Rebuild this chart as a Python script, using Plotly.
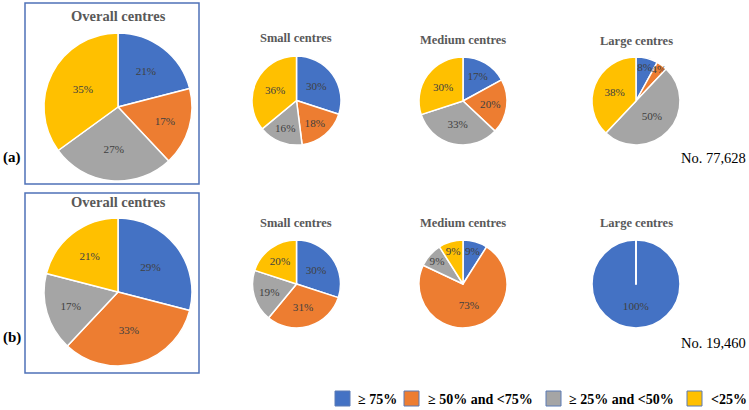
import plotly.graph_objects as go

W, H = 749, 410

categories = ["≥ 75%", "≥ 50% and <75%", "≥ 25% and <50%", "<25%"]
colors = ["#4472C4", "#ED7D31", "#A5A5A5", "#FFC000"]

# Row (a) No. 77,628
a_overall = [21, 17, 27, 35]
a_small = [30, 18, 16, 36]
a_medium = [17, 20, 33, 30]
a_large = [8, 4, 50, 38]

# Row (b) No. 19,460
b_overall = [29, 33, 17, 21]
b_small = [30, 31, 19, 20]
b_medium = [9, 73, 9, 9]
b_large = [100, 0, 0, 0]

titles = ["Overall centres", "Small centres", "Medium centres", "Large centres"]
row_labels = ["(a)", "(b)"]
totals = ["No. 77,628", "No. 19,460"]


def px_x(p):
    return p / W


def px_y(p):
    return 1 - p / H


def slice_text(v, total):
    if v <= 0:
        return ""
    if v == total:
        # full circle: push the label below the centre, as in the original
        return "\u00a0<br>\u00a0<br>\u00a0<br>" + f"{v}%"
    return f"{v}%"


# pie boxes in pixels: (x0, x1, y0, y1)
pies = [
    (a_overall, (44, 192, 33, 181)),
    (a_small, (252, 341, 56, 145)),
    (a_medium, (419, 507, 57, 145)),
    (a_large, (592, 680, 57, 145)),
    (b_overall, (44, 192, 218, 366)),
    (b_small, (252, 341, 240, 328)),
    (b_medium, (419, 507, 240, 328)),
    (b_large, (592, 680, 240, 328)),
]

fig = go.Figure()
for i, (vals, (x0, x1, y0, y1)) in enumerate(pies):
    tot = sum(vals)
    fig.add_trace(go.Pie(
        labels=categories,
        values=vals,
        text=[slice_text(v, tot) for v in vals],
        textinfo="text",
        textposition="inside",
        insidetextorientation="horizontal",
        textfont=dict(family="Liberation Serif", size=11.5, color="#404040"),
        marker=dict(colors=colors, line=dict(color="white", width=1.5)),
        sort=False,
        direction="clockwise",
        rotation=0,
        domain=dict(x=[px_x(x0), px_x(x1)], y=[px_y(y1), px_y(y0)]),
        showlegend=False,
        hoverinfo="label+percent",
    ))

annotations = []
shapes = []
title_pos = [
    [(118, 16, 14.5), (296, 38, 12.5), (463, 40, 12.5), (636, 41, 12.5)],
    [(118, 202, 14.5), (296, 223, 12.5), (463, 223, 12.5), (636, 223, 12.5)],
]
for r in range(2):
    for c in range(4):
        x, y, s = title_pos[r][c]
        annotations.append(dict(
            text=f"<b>{titles[c]}</b>", x=px_x(x), y=px_y(y), xref="paper", yref="paper",
            showarrow=False, xanchor="center", yanchor="middle",
            font=dict(family="Liberation Serif", size=s, color="#595959"),
        ))
for r, y in enumerate([157, 337]):
    annotations.append(dict(
        text=f"<b>{row_labels[r]}</b>", x=px_x(1), y=px_y(y), xref="paper", yref="paper",
        showarrow=False, xanchor="left", yanchor="middle",
        font=dict(family="Liberation Serif", size=15, color="black"),
    ))
for r, y in enumerate([158, 343]):
    annotations.append(dict(
        text=totals[r], x=px_x(748), y=px_y(y), xref="paper", yref="paper",
        showarrow=False, xanchor="right", yanchor="middle",
        font=dict(family="Liberation Serif", size=14.5, color="black"),
    ))

for (y0, y1) in [(3, 184), (193, 373)]:
    shapes.append(dict(
        type="rect", xref="paper", yref="paper",
        x0=px_x(25), x1=px_x(199), y0=px_y(y1), y1=px_y(y0),
        line=dict(color="#4F72B8", width=1.5), fillcolor="rgba(0,0,0,0)",
    ))

# legend (layout positions in pixels: square left edge, text left edge)
legend_pos = [(335, 356), (404, 426), (546, 567), (687, 709)]
leg_y0, leg_y1, leg_text_y = 391, 406, 399
for (sx, tx), cat, col in zip(legend_pos, categories, colors):
    shapes.append(dict(
        type="rect", xref="paper", yref="paper",
        x0=px_x(sx), x1=px_x(sx + 15), y0=px_y(leg_y1), y1=px_y(leg_y0),
        line=dict(color="#5A7AB5", width=1), fillcolor=col,
    ))
    annotations.append(dict(
        text=f"<b>{cat.replace('<', '&lt;')}</b>", x=px_x(tx), y=px_y(leg_text_y),
        xref="paper", yref="paper", showarrow=False, xanchor="left", yanchor="middle",
        font=dict(family="Liberation Serif", size=14, color="black"),
    ))

fig.update_layout(
    width=W, height=H,
    margin=dict(l=0, r=0, t=0, b=0),
    paper_bgcolor="white", plot_bgcolor="white",
    annotations=annotations, shapes=shapes,
    uniformtext=dict(minsize=11, mode="show"),
    showlegend=False,
)

fig.write_html(
    "out.html",
    config={"displayModeBar": False},
    post_script="document.body.style.margin='0';document.body.style.overflow='hidden';",
)
